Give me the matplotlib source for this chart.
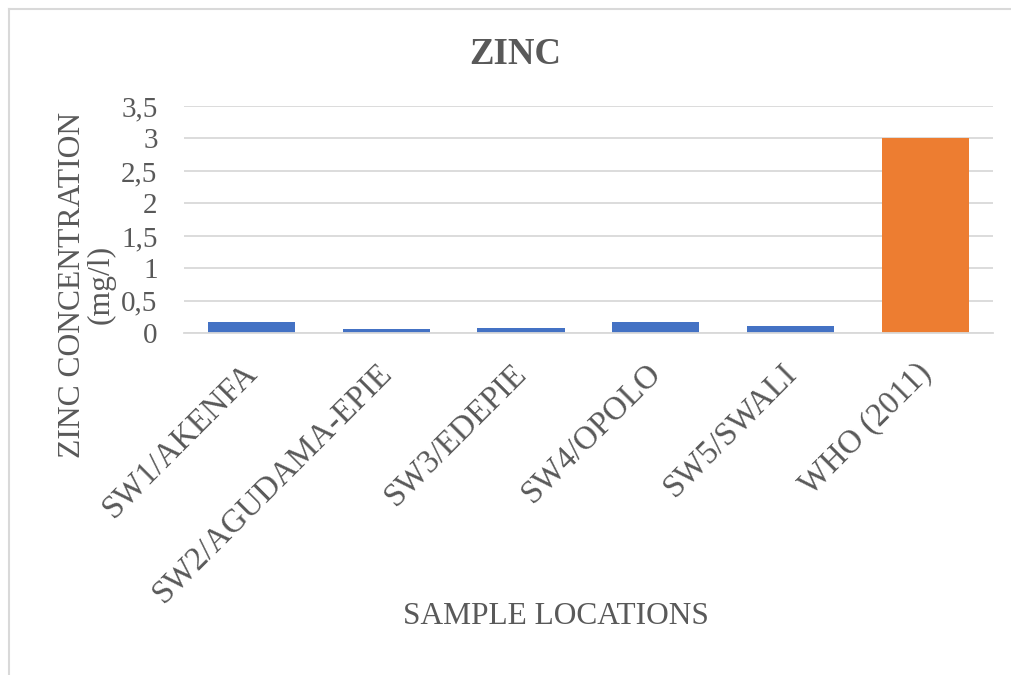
"""
ZINC concentration per sample location vs WHO (2011) limit.
"""

import matplotlib
matplotlib.use("Agg")
import matplotlib.pyplot as plt
from matplotlib.lines import Line2D
from matplotlib.ticker import FuncFormatter

# data
locations = ["SW1/AKENFA", "SW2/AGUDAMA-EPIE", "SW3/EDEPIE",
             "SW4/OPOLO", "SW5/SWALI", "WHO (2011)"]
zinc_mg_l = [0.17, 0.07, 0.08, 0.18, 0.11, 3.0]
bar_colors = ["#4472C4"] * 5 + ["#ED7D31"]
y_ticks = [0, 0.5, 1, 1.5, 2, 2.5, 3, 3.5]

TEXT = "#595959"
GRID = "#D9D9D9"

plt.rcParams["font.family"] = ["Liberation Serif", "DejaVu Serif"]

fig = plt.figure(figsize=(10.11, 6.75), dpi=100)
ax = fig.add_axes([0.182, 0.5062, 0.800, 0.3368])

x = range(len(locations))
ax.bar(x, zinc_mg_l, width=0.646, color=bar_colors, zorder=3)

ax.set_xlim(-0.5, len(locations) - 0.5)
ax.set_ylim(0, 3.5)
ax.set_yticks(y_ticks)
# decimal comma, like the original
ax.yaxis.set_major_formatter(FuncFormatter(lambda v, _: f"{v:g}".replace(".", ",")))
ax.tick_params(axis="y", length=0, labelsize=21, labelcolor=TEXT, pad=19)
ax.set_xticks([])
ax.grid(axis="y", color=GRID, linewidth=1.3, zorder=0)
for side in ["top", "right", "left"]:
    ax.spines[side].set_visible(False)
ax.spines["bottom"].set_color(GRID)
ax.spines["bottom"].set_linewidth(1.3)
ax.spines["bottom"].set_zorder(4)

# rotated category labels
for i, name in enumerate(locations):
    ax.annotate(name, xy=(i, 0), xycoords=("data", "axes fraction"),
                xytext=(1, -35), textcoords="offset pixels",
                rotation=45, rotation_mode="anchor", ha="right", va="center",
                fontsize=23.5, color=TEXT)

fig.text(0.510, 0.905, "ZINC", ha="center", va="baseline",
         fontsize=26.5, fontweight="bold", color=TEXT)
fig.text(0.550, 0.0756, "SAMPLE LOCATIONS", ha="center", va="baseline",
         fontsize=22.6, color=TEXT)
fig.text(0.086, 0.578, "ZINC CONCENTRATION\n(mg/l)", ha="center", va="center",
         rotation=90, multialignment="center", linespacing=1.0,
         fontsize=22.8, color=TEXT)

# chart frame (only left and top edges show in the crop)
fig.add_artist(Line2D([0.009, 0.009], [0, 0.987], color=GRID, linewidth=1.5))
fig.add_artist(Line2D([0.009, 1.0], [0.987, 0.987], color=GRID, linewidth=1.5))

fig.savefig("out.png", dpi=100)
